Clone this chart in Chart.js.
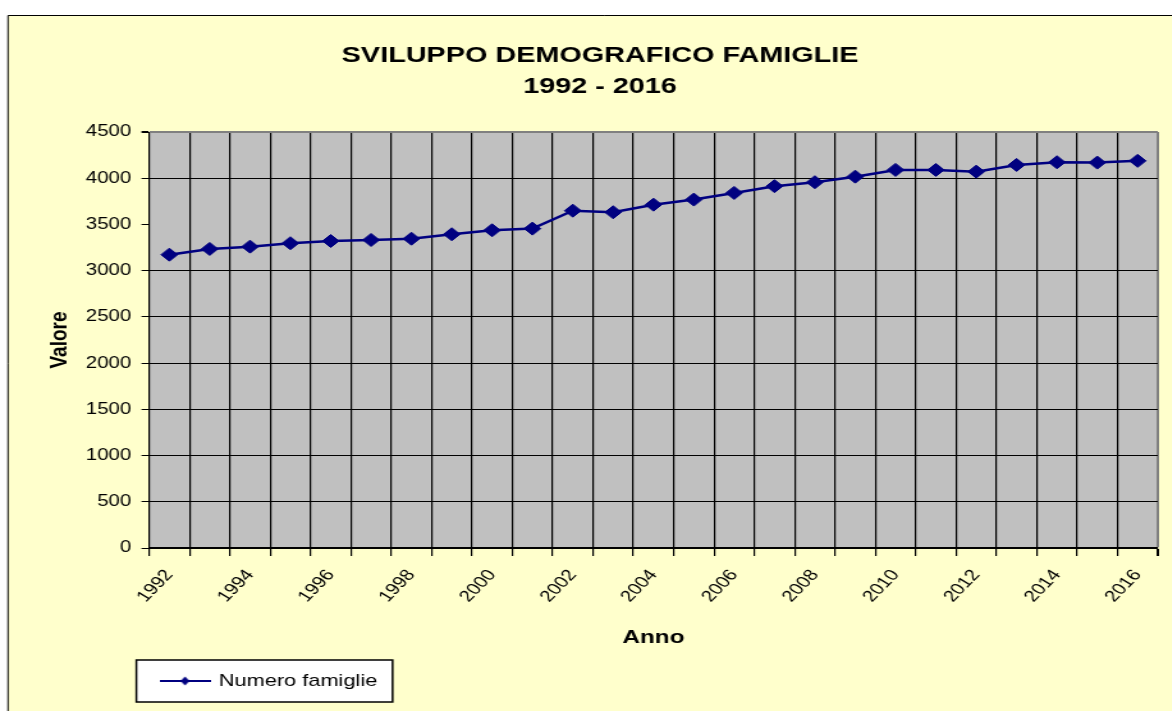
<!DOCTYPE html>
<html>
<head>
<meta charset="utf-8">
<script src="https://cdn.jsdelivr.net/npm/chart.js@4"></script>
<style>
  html, body { margin: 0; padding: 0; background: #fff; overflow: hidden; }
  #chart { position: absolute; left: 0; top: 0; }
</style>
</head>
<body>
<canvas id="chart" width="938" height="711" style="width:1200px;height:711px"></canvas>
<script>
// Dati
const anni = ['1992', '1993', '1994', '1995', '1996', '1997', '1998', '1999', '2000',
  '2001', '2002', '2003', '2004', '2005', '2006', '2007', '2008', '2009', '2010',
  '2011', '2012', '2013', '2014', '2015', '2016'];
const numeroFamiglie = [3173, 3235, 3260, 3297, 3321, 3332, 3346, 3394, 3437,
  3455, 3649, 3632, 3714, 3769, 3841, 3914, 3957, 4017, 4090,
  4090, 4071, 4144, 4173, 4169, 4188];
const anniEtichetta = ['1992', '1994', '1996', '1998', '2000', '2002', '2004',
  '2006', '2008', '2010', '2012', '2014', '2016'];
const valoriAsse = ['0', '500', '1000', '1500', '2000', '2500', '3000', '3500', '4000', '4500'];

const FONT = "'Liberation Sans', Arial, sans-serif";
const NAVY = '#000080';
// il canvas viene stirato in orizzontale come nell'immagine originale
const STRETCH = 1200 / 938;

// Marcatore della legenda: linea con rombo al centro
const legendMarker = document.createElement('canvas');
legendMarker.width = 40;
legendMarker.height = 12;
(function () {
  const c = legendMarker.getContext('2d');
  c.strokeStyle = NAVY;
  c.fillStyle = NAVY;
  c.lineWidth = 2;
  c.beginPath();
  c.moveTo(0, 6);
  c.lineTo(40, 6);
  c.stroke();
  c.beginPath();
  c.moveTo(20, 1.5);
  c.lineTo(23.5, 6);
  c.lineTo(20, 10.5);
  c.lineTo(16.5, 6);
  c.closePath();
  c.fill();
})();

// Sfondo giallo, area del grafico grigia e riquadro della legenda
const panelPlugin = {
  id: 'panel',
  beforeDraw(chart) {
    const { ctx, width, height, chartArea: { left, top, right, bottom } } = chart;
    const px = 8 / STRETCH;
    ctx.save();
    ctx.fillStyle = '#ffffff';
    ctx.fillRect(0, 0, width, height);
    ctx.fillStyle = '#ffffcc';
    ctx.fillRect(px, 15, width - px, height - 15);
    ctx.strokeStyle = '#000';
    ctx.lineWidth = 1;
    ctx.beginPath();
    ctx.moveTo(px, height);
    ctx.lineTo(px, 15.5);
    ctx.lineTo(width, 15.5);
    ctx.stroke();

    ctx.fillStyle = '#c0c0c0';
    ctx.fillRect(left, top, right - left, bottom - top);

    const hb = chart.legend && chart.legend.legendHitBoxes[0];
    if (hb) {
      const x0 = hb.left - 20;
      const y0 = hb.top - 12.5;
      const w = hb.width + 32;
      const h = hb.height + 25;
      ctx.fillStyle = '#ffffff';
      ctx.fillRect(x0, y0, w, h);
      ctx.lineWidth = 1.5;
      ctx.strokeRect(x0, y0, w, h);
    }
    ctx.restore();
  },
};

new Chart(document.getElementById('chart'), {
  type: 'line',
  data: {
    labels: anni,
    datasets: [
      {
        label: 'Numero famiglie',
        data: numeroFamiglie,
        borderColor: NAVY,
        backgroundColor: NAVY,
        borderWidth: 2.5,
        pointStyle: 'rectRot',
        pointRadius: 6.5,
        pointBorderWidth: 1,
        tension: 0,
      },
    ],
  },
  options: {
    responsive: false,
    devicePixelRatio: 1,
    animation: false,
    layout: {
      padding: { left: 33, right: 33, top: 0, bottom: 11.5 },
    },
    scales: {
      x: {
        offset: true,
        grid: {
          offset: true,
          color: (c) => (c.tick ? '#000' : '#808080'),
          lineWidth: (c) => (c.tick ? 1.2 : 2),
          tickColor: '#000',
          tickLength: 8,
        },
        border: { color: '#000', width: 2 },
        ticks: {
          autoSkip: false,
          maxRotation: 52,
          minRotation: 52,
          padding: 10,
          color: '#000',
          font: { family: FONT, size: 16 },
          callback: (v, i) => (anniEtichetta.includes(anni[i]) ? anni[i] : ''),
        },
        title: {
          display: true,
          text: 'Anno',
          color: '#000',
          font: { family: FONT, size: 19, weight: 'bold' },
          padding: { top: 10.8, bottom: 13 },
        },
      },
      y: {
        min: 0,
        max: 4500,
        ticks: {
          stepSize: 500,
          padding: 8,
          color: '#000',
          font: { family: FONT, size: 16 },
          callback: (v, i) => valoriAsse[i],
        },
        grid: {
          color: (c) => {
            const v = c.tick && c.tick.value;
            if (v === 3500) return 'rgba(0,0,0,0)';
            if (v === 4500) return '#808080';
            return '#000';
          },
          lineWidth: (c) => (c.tick && c.tick.value === 4500 ? 2 : 1),
          tickColor: '#000',
          tickLength: 6,
        },
        border: { color: '#000', width: 1 },
        title: {
          display: true,
          text: 'Valore',
          color: '#000',
          font: { family: FONT, size: 19, weight: 'bold' },
          padding: { top: 2.5, bottom: 0.7 },
        },
      },
    },
    plugins: {
      title: {
        display: true,
        text: ['SVILUPPO DEMOGRAFICO FAMIGLIE', '1992 - 2016'],
        color: '#000',
        font: { family: FONT, size: 22.5, weight: 'bold', lineHeight: 1.4 },
        padding: { top: 40, bottom: 29 },
      },
      legend: {
        position: 'bottom',
        align: 'start',
        fullSize: false,
        labels: {
          usePointStyle: true,
          pointStyle: legendMarker,
          pointStyleWidth: 36,
          padding: 10,
          color: '#000',
          font: { family: FONT, size: 17 },
        },
      },
      tooltip: { enabled: false },
    },
  },
  plugins: [panelPlugin],
});
</script>
</body>
</html>
